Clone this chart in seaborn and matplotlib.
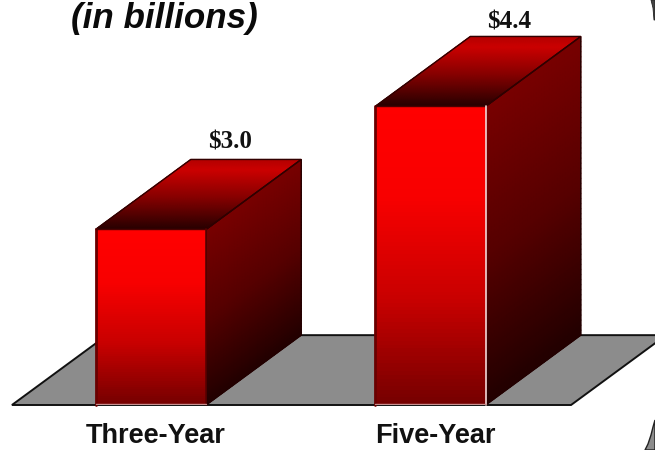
import numpy as np
import matplotlib
matplotlib.use("Agg")
import matplotlib.pyplot as plt
import seaborn as sns
from matplotlib.colors import LinearSegmentedColormap
from matplotlib.patches import Polygon

categories = ["Three-Year", "Five-Year"]
values = [3.0, 4.4]
value_labels = ["$3.0", "$4.4"]
chart_title = "(in billions)"

sns.set_theme(style="white")
plt.rcParams["font.family"] = ["Liberation Sans", "DejaVu Sans"]

W, H = 655, 450
fig = plt.figure(figsize=(W / 100, H / 100), dpi=100, facecolor="white")
ax = fig.add_axes([0, 45 / H, 1, 405 / H])

positions = np.arange(len(categories))
sns.barplot(x=positions, y=values, native_scale=True, color="#cc0000", saturation=1,
            width=0.395, linewidth=0, ax=ax)

# The axis is truncated: the floor of the chart sits at 1.0, not at zero.
ax.set_xlim(-0.540, 1.803)
ax.set_ylim(1.0, 5.61)
sns.despine(ax=ax, left=True, bottom=True)
ax.set_yticks([])
ax.set_ylabel("")
ax.set_xticks(positions + 0.016, categories)
ax.tick_params(axis="x", length=0, pad=13)
for tick in ax.get_xticklabels():
    tick.set_fontsize(19.5)
    tick.set_fontweight("bold")
    tick.set_color("#111111")

floor = ax.get_ylim()[0]
depth_x, depth_y = 0.340, 0.795

front_cmap = LinearSegmentedColormap.from_list(
    "front", [(0, "#ff0000"), (0.3, "#f80000"), (0.65, "#c80000"), (1, "#760000")])
side_cmap = LinearSegmentedColormap.from_list(
    "side", [(0, "#780000"), (0.5, "#560000"), (1, "#220000")])
top_cmap = LinearSegmentedColormap.from_list(
    "top", [(0, "#280000"), (0.45, "#860000"), (0.85, "#cc0000"), (1, "#b40000")])


def skew_mesh(x0, x1, y0, y1, skew):
    """Grid over a parallelogram; skew runs along the depth direction."""
    u = np.linspace(0, 1, 60)
    v = np.linspace(0, 1, 60)
    uu, vv = np.meshgrid(u, v)
    if skew == "side":
        return x0 + uu * depth_x, y0 + vv * (y1 - y0) + uu * depth_y, 1 - vv
    return x0 + vv * (x1 - x0) + uu * depth_x, y0 + uu * depth_y, uu


# Grey floor under the bars
left_px, right_px = 12, 571
to_x = lambda px: (px - 151) / 279.5
ax.add_patch(Polygon([(to_x(left_px), floor), (to_x(right_px), floor),
                      (to_x(right_px) + depth_x, floor + depth_y),
                      (to_x(left_px) + depth_x, floor + depth_y)],
                     closed=True, facecolor="#8c8c8c", edgecolor="#111111",
                     linewidth=1.4, zorder=0.5, clip_on=False))

right_edges = ["#5a0000", "#f4d8d8"]
label_lifts = [0.125, 0.09]
bars = list(ax.patches)[:len(values)]
for bar, label, r_edge, lift in zip(bars, value_labels, right_edges, label_lifts):
    x0, x1 = bar.get_x(), bar.get_x() + bar.get_width()
    top = bar.get_y() + bar.get_height()

    # Front face: vertical gradient kept inside the bar's own rectangle
    gy = np.linspace(floor, top, 80)
    mesh = ax.pcolormesh([x0, x1], gy, np.linspace(1, 0, 79)[:, None],
                         cmap=front_cmap, shading="flat", zorder=3)
    mesh.set_clip_path(bar)

    # Side face
    X, Y, C = skew_mesh(x1, x1, floor, top, "side")
    ax.pcolormesh(X, Y, C, cmap=side_cmap, vmin=0, vmax=1, shading="gouraud", zorder=2)
    ax.add_patch(Polygon([(x1, floor), (x1 + depth_x, floor + depth_y),
                          (x1 + depth_x, top + depth_y), (x1, top)],
                         closed=True, fill=False, edgecolor="#220000", linewidth=1.0, zorder=2.5))

    # Top face
    X, Y, C = skew_mesh(x0, x1, top, top, "top")
    ax.pcolormesh(X, Y, C, cmap=top_cmap, vmin=0, vmax=1, shading="gouraud", zorder=2)
    ax.add_patch(Polygon([(x0, top), (x1, top), (x1 + depth_x, top + depth_y),
                          (x0 + depth_x, top + depth_y)],
                         closed=True, fill=False, edgecolor="#300000", linewidth=1.0, zorder=2.5))

    # Front-face outline
    ax.plot([x0, x0], [floor, top], color="#6a0000", lw=2.0, zorder=4, clip_on=False)
    ax.plot([x0, x1], [top, top], color="#4a0000", lw=1.0, zorder=4)
    ax.plot([x1, x1], [floor, top], color=r_edge, lw=1.2, zorder=4, clip_on=False)
    ax.plot([x0, x1], [floor + 0.012, floor + 0.012], color="#c89090", lw=1.0, zorder=4)

    ax.text((x0 + x1) / 2 + depth_x * 0.83, top + depth_y + lift, label,
            ha="center", va="baseline", fontsize=18, fontweight="bold",
            family=["Liberation Serif", "DejaVu Serif"], color="#111111", zorder=5,
            parse_math=False)

fig.text(164 / W, 1 - 28 / H, chart_title, ha="center", va="baseline",
         fontsize=25.2, fontweight="bold", fontstyle="italic", color="#0a0a0a")

# Rounded slide border showing at the right-hand corners
def px(points):
    return [(x / W, 1 - y / H) for x, y in points]

fig.add_artist(Polygon(px([(655, 420), (653, 427), (651, 435), (648, 444), (645, 450), (655, 450)]),
                       closed=True, transform=fig.transFigure, facecolor="#8c8c8c",
                       edgecolor="#222222", linewidth=1.0))
fig.add_artist(Polygon(px([(651, 0), (653, 8), (654, 20), (655, 20), (655, 0)]),
                       closed=True, transform=fig.transFigure, facecolor="#444444",
                       edgecolor="#222222", linewidth=0.6))

fig.savefig("out.png", dpi=100, facecolor="white")
